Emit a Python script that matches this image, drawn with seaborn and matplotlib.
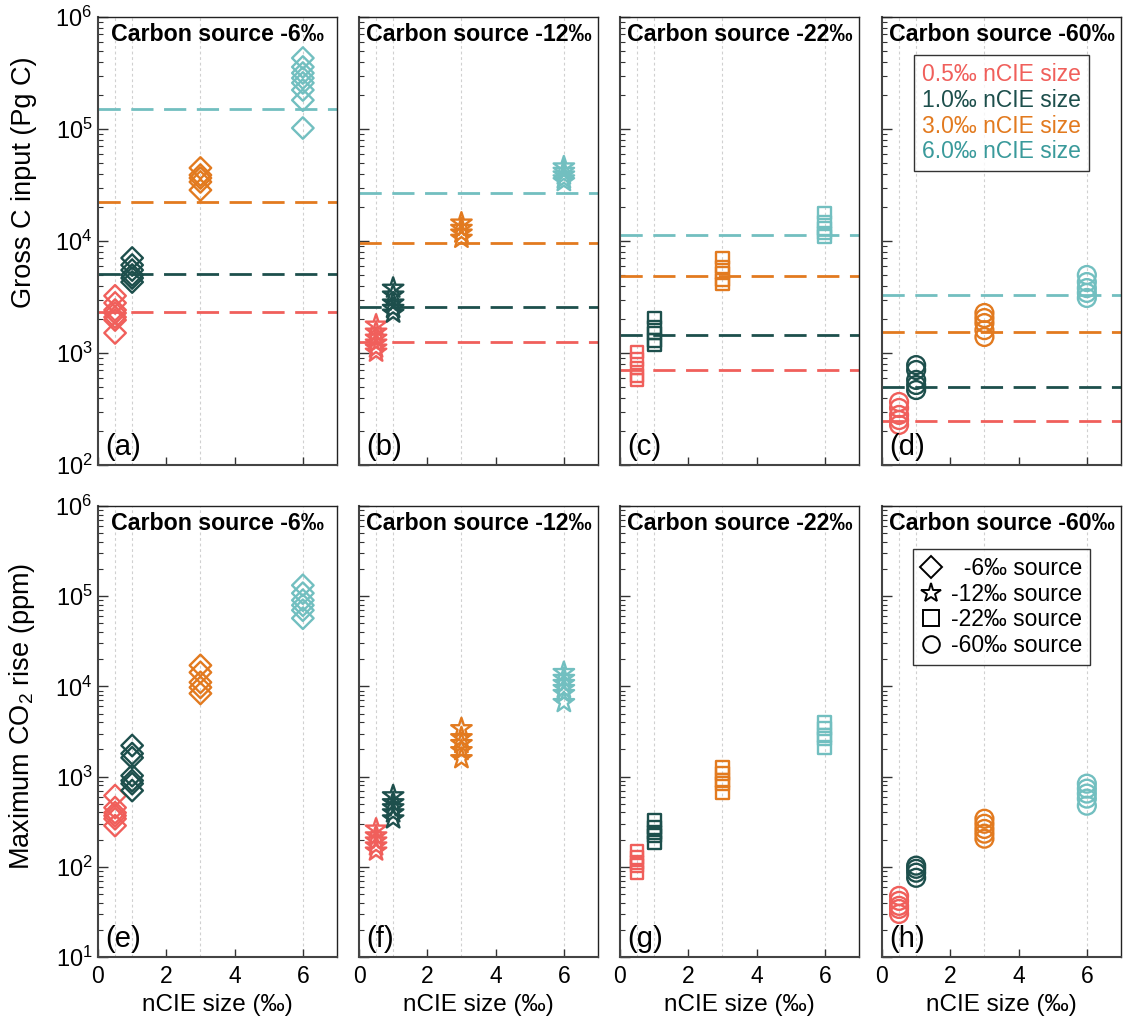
import numpy as np
import pandas as pd
import matplotlib
matplotlib.use("Agg")
import matplotlib.pyplot as plt
import seaborn as sns
from matplotlib.lines import Line2D
from matplotlib.ticker import LogLocator, NullFormatter, FixedLocator, FuncFormatter

sns.set_theme(style="white")
plt.rcParams["font.family"] = ["Liberation Sans", "DejaVu Sans"]
plt.rcParams["mathtext.fontset"] = "custom"
plt.rcParams["mathtext.rm"] = "Liberation Sans"
plt.rcParams["mathtext.it"] = "Liberation Sans:italic"
plt.rcParams["mathtext.bf"] = "Liberation Sans:bold"
plt.rcParams["text.color"] = "black"
plt.rcParams["axes.labelcolor"] = "black"
plt.rcParams["xtick.color"] = "black"
plt.rcParams["ytick.color"] = "black"

# ---------------- data ----------------
ncie_sizes = [0.5, 1.0, 3.0, 6.0]
size_labels = ["0.5‰ nCIE size", "1.0‰ nCIE size", "3.0‰ nCIE size", "6.0‰ nCIE size"]
source_titles = ["Carbon source -6‰", "Carbon source -12‰", "Carbon source -22‰", "Carbon source -60‰"]
source_legend = ["  -6‰ source", "-12‰ source", "-22‰ source", "-60‰ source"]
top_labels = ["(a)", "(b)", "(c)", "(d)"]
bottom_labels = ["(e)", "(f)", "(g)", "(h)"]
x_ticks = [0, 2, 4, 6]

# Gross C input (Pg C): one list per nCIE size
gross_src6 = [[3240, 2800, 2420, 2275, 2090, 1970, 1510],
              [7050, 6100, 5500, 4970, 4670, 4300],
              [44900, 38800, 36500, 33700, 28500],
              [430000, 358000, 316000, 285000, 258000, 223000, 181000, 102000]]
gross_src12 = [[1780, 1540, 1360, 1230, 1110, 1020],
               [3800, 3300, 2800, 2510, 2275],
               [14500, 13000, 11800, 10600],
               [46000, 42000, 39000, 36000, 34000]]
gross_src22 = [[1020, 870, 735, 630, 575],
               [2050, 1700, 1510, 1300, 1180],
               [7050, 5860, 5180, 4480, 4130],
               [17800, 14800, 13000, 11800, 10900]]
gross_src60 = [[365, 323, 280, 252, 228],
               [780, 705, 575, 518, 467],
               [2275, 2050, 1850, 1600, 1390],
               [4970, 4300, 3800, 3440, 3100]]
gross_line_src6 = [2300, 5100, 22500, 150000]
gross_line_src12 = [1250, 2600, 9500, 27000]
gross_line_src22 = [700, 1450, 4900, 11200]
gross_line_src60 = [245, 500, 1550, 3300]

# Maximum CO2 rise (ppm)
co2_src6 = [[615, 453, 398, 369, 341, 286],
            [2210, 1800, 1620, 1025, 903, 835, 700],
            [17100, 14300, 11100, 9750, 8350],
            [132000, 108000, 90300, 79400, 69900, 57000]]
co2_src12 = [[263, 221, 194, 171, 150],
             [615, 515, 453, 398, 341],
             [3410, 2710, 2330, 1945, 1585],
             [14300, 12300, 10800, 9500, 8360, 6640]]
co2_src22 = [[150, 126, 111, 103, 86],
             [324, 271, 239, 221, 185],
             [1260, 1080, 903, 835, 660],
             [3980, 3410, 2860, 2630, 2090]]
co2_src60 = [[47.6, 41.9, 36.9, 34.1, 30.0],
             [103, 95, 86, 75.5],
             [341, 300, 263, 233, 205],
             [835, 735, 648, 570, 476]]

# ---------------- style ----------------
colors = ["#F05F5B", "#1D4F4C", "#E27A1F", "#72BFC0"]
text_colors = ["#F05F5B", "#1D4F4C", "#E27A1F", "#3A9A9B"]
markers = ["D", "*", "s", "o"]
msizes = [120, 240, 85, 165]

gross_all = [gross_src6, gross_src12, gross_src22, gross_src60]
gross_lines = [gross_line_src6, gross_line_src12, gross_line_src22, gross_line_src60]
co2_all = [co2_src6, co2_src12, co2_src22, co2_src60]

W, H = 1130, 1024
fig = plt.figure(figsize=(W / 100, H / 100), dpi=100)

lefts = [98, 359, 620, 882]
aw = 239
top_row = (17, 465)
bot_row = (506, 957)


def make_ax(left, row):
    t, b = row
    return fig.add_axes([left / W, 1 - b / H, aw / W, (b - t) / H])


def style_ax(ax, ylim, show_ylab, show_xlab):
    ax.set_yscale("log")
    ax.set_ylim(*ylim)
    ax.set_xlim(0, 7)
    ax.xaxis.set_major_locator(FixedLocator(x_ticks))
    ax.yaxis.set_major_locator(LogLocator(base=10, numticks=10))
    ax.yaxis.set_minor_locator(LogLocator(base=10, subs=np.arange(2, 10), numticks=20))
    ax.yaxis.set_minor_formatter(NullFormatter())
    if show_ylab:
        ax.yaxis.set_major_formatter(FuncFormatter(lambda v, p: r"$10^{%d}$" % round(np.log10(v))))
    else:
        ax.yaxis.set_major_formatter(NullFormatter())
    if not show_xlab:
        ax.set_xticklabels([])
    ax.tick_params(axis="both", which="both", direction="in", left=True, bottom=True,
                   right=False, top=False, colors="#333333", labelcolor="black")
    ax.tick_params(axis="y", which="major", length=7, width=1, labelsize=17, pad=4)
    ax.tick_params(axis="y", which="minor", length=3.5, width=0.8)
    ax.tick_params(axis="x", which="major", length=6, width=1, labelsize=16.5, pad=6)
    for s in ["left", "bottom"]:
        ax.spines[s].set_color("#444444")
        ax.spines[s].set_linewidth(1.5)
    for s in ["top", "right"]:
        ax.spines[s].set_color("#222222")
        ax.spines[s].set_linewidth(1.0)
    for xv in ncie_sizes:
        ax.axvline(xv, color="#d0d0d0", lw=0.8, ls=(0, (2.5, 2.5)), zorder=0)
    ax.set_facecolor("white")


def draw_points(ax, values, mi):
    for k, vals in enumerate(values):
        df = pd.DataFrame({"x": [ncie_sizes[k]] * len(vals), "y": vals})
        sns.scatterplot(data=df, x="x", y="y", ax=ax, marker=markers[mi], s=msizes[mi],
                        facecolor="none", edgecolor=colors[k], color=colors[k],
                        linewidth=1.7, zorder=3, legend=False)
    ax.set_xlabel("")
    ax.set_ylabel("")


for i in range(4):
    # top row
    ax = make_ax(lefts[i], top_row)
    draw_points(ax, gross_all[i], i)
    for k, lv in enumerate(gross_lines[i]):
        ax.axhline(lv, color=colors[k], lw=2.0, ls=(0, (8, 3.8)), zorder=2)
    style_ax(ax, (1e2, 1e6), i == 0, False)
    ax.text(0.5, 0.987, source_titles[i], transform=ax.transAxes, ha="center", va="top",
            fontsize=16.7, fontweight="bold", color="black", zorder=5)
    ax.text(0.03, 0.008, top_labels[i], transform=ax.transAxes, ha="left", va="bottom",
            fontsize=21, color="black", zorder=5)
    if i == 0:
        ax.set_ylabel("Gross C input (Pg C)", fontsize=19.5)
        ax.yaxis.set_label_coords(-0.255, 0.632)
    if i == 3:
        handles = [Line2D([], [], lw=0, marker=None) for _ in size_labels]
        leg = ax.legend(handles, size_labels, loc="upper center", bbox_to_anchor=(0.5, 0.915),
                        handlelength=0, handletextpad=0, fontsize=16.5, frameon=True,
                        fancybox=False, edgecolor="black", borderpad=0.35, labelspacing=0.12,
                        borderaxespad=0)
        leg.get_frame().set_linewidth(1.0)
        for t, c in zip(leg.get_texts(), text_colors):
            t.set_color(c)

    # bottom row
    ax2 = make_ax(lefts[i], bot_row)
    draw_points(ax2, co2_all[i], i)
    style_ax(ax2, (1e1, 1e6), i == 0, True)
    ax2.text(0.5, 0.987, source_titles[i], transform=ax2.transAxes, ha="center", va="top",
             fontsize=16.7, fontweight="bold", color="black", zorder=5)
    ax2.text(0.03, 0.008, bottom_labels[i], transform=ax2.transAxes, ha="left", va="bottom",
             fontsize=21, color="black", zorder=5)
    ax2.set_xlabel("nCIE size (‰)", fontsize=17.5, labelpad=4)
    if i == 0:
        ax2.set_ylabel("Maximum CO$_2$ rise (ppm)", fontsize=19.5)
        ax2.yaxis.set_label_coords(-0.255, 0.534)
    if i == 3:
        handles = [Line2D([], [], lw=0, marker=m, markersize=ms, markerfacecolor="none",
                          markeredgecolor="black", markeredgewidth=1.4)
                   for m, ms in zip(markers, [11, 15, 11, 12])]
        leg2 = ax2.legend(handles, source_legend, loc="upper center", bbox_to_anchor=(0.5, 0.905),
                          handlelength=0.9, handletextpad=0.4, fontsize=16.5, frameon=True,
                          fancybox=False, edgecolor="black", borderpad=0.35, labelspacing=0.12,
                          borderaxespad=0)
        leg2.get_frame().set_linewidth(1.0)

fig.savefig("out.png", dpi=100)
